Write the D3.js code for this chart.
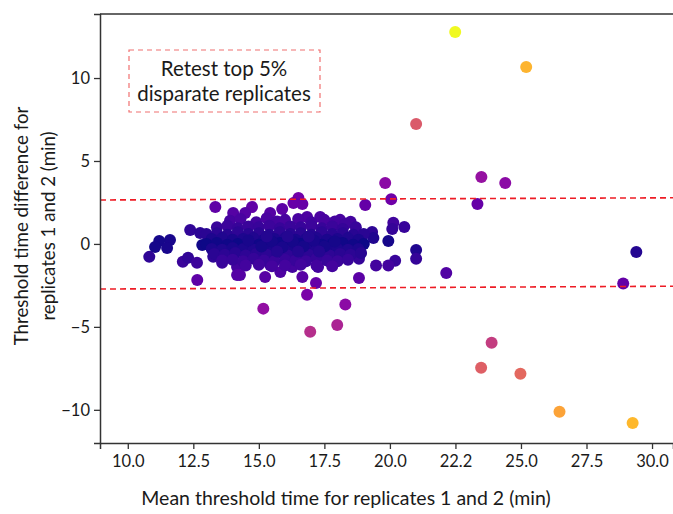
<!DOCTYPE html>
<html>
<head>
<meta charset="utf-8">
<script src="https://cdn.jsdelivr.net/npm/d3@7"></script>
<style>
  html, body { margin: 0; padding: 0; background: #fff; }
  svg text { font-family: Lato, "Open Sans", sans-serif; fill: #1a1a1a; }
</style>
</head>
<body>
<div id="chart"></div>
<script>
// mean threshold time (x) and replicate difference (y)
const outlierPoints = [
  [22.49, 12.77], [25.2, 10.66], [21.0, 7.23], [19.82, 3.67], [23.49, 4.04], [24.4, 3.67],
  [20.05, 2.7], [19.06, 2.35], [23.34, 2.4], [29.4, -0.48], [28.9, -2.39], [22.15, -1.75],
  [18.3, -3.65], [17.99, -4.88], [23.88, -5.96], [23.48, -7.47], [24.98, -7.83],
  [26.47, -10.12], [29.26, -10.8], [15.17, -3.9], [16.96, -5.3], [16.84, -3.07],
  [17.18, -2.35], [12.65, -2.17]
];

const edgePoints = [
  [20.13, 1.27], [20.55, 1.02], [20.09, 0.9], [19.32, 0.72], [19.37, 0.36], [19.94, 0.18],
  [18.99, 0.0], [21.0, -0.36], [21.0, -0.9], [20.2, -1.02], [19.94, -1.3], [19.47, -1.3],
  [18.82, -0.9], [18.82, -2.05], [18.5, 1.33], [18.1, 1.45],
  [13.34, 2.23], [12.38, 0.84], [11.61, 0.24], [11.2, 0.18], [11.04, -0.18], [11.5, -0.24],
  [10.82, -0.78], [12.1, -1.08], [12.3, -0.84], [12.64, -1.14], [12.76, 0.66], [12.84, -0.06],
  [13.26, -0.78], [13.6, -1.14], [14.17, -1.39], [14.17, -1.87],
  [16.51, 2.77], [16.32, 2.47], [16.66, 2.41], [14.74, 2.23], [14.48, 1.87], [15.43, 1.87],
  [15.89, 2.1], [16.84, 1.63], [17.34, 1.63], [14.02, 1.87], [14.28, -1.87], [15.24, -1.99],
  [15.82, -1.69], [16.66, -1.99], [15.43, -1.27], [16.28, -1.39], [17.26, -1.39]
];

const clusterPoints = [
  [13.9, 1.4], [14.3, 1.5], [14.9, 1.3], [15.3, 1.55], [15.7, 1.35], [16.0, 1.45], [16.5, 1.5],
  [17.0, 1.3], [17.5, 1.45], [17.9, 1.35], [18.3, 1.2],
  [13.4, 1.0], [13.8, 1.1], [14.2, 0.95], [14.6, 1.05], [15.0, 1.0], [15.4, 1.1], [15.8, 0.95],
  [16.2, 1.05], [16.6, 1.0], [17.0, 1.1], [17.4, 0.95], [17.8, 1.05], [18.2, 0.9], [18.7, 1.0],
  [13.0, 0.6], [13.4, 0.65], [13.8, 0.55], [14.2, 0.7], [14.6, 0.6], [15.0, 0.65], [15.4, 0.55],
  [15.8, 0.7], [16.2, 0.6], [16.6, 0.65], [17.0, 0.55], [17.4, 0.7], [17.8, 0.6], [18.2, 0.65],
  [18.6, 0.55], [19.0, 0.6],
  [13.2, 0.3], [13.6, 0.35], [14.0, 0.25], [14.4, 0.3], [14.8, 0.35], [15.2, 0.25], [15.6, 0.3],
  [16.0, 0.35], [16.4, 0.25], [16.8, 0.3], [17.2, 0.35], [17.6, 0.25], [18.0, 0.3], [18.4, 0.35],
  [18.8, 0.25],
  [13.0, 0.0], [13.4, 0.05], [13.8, -0.05], [14.2, 0.0], [14.6, 0.05], [15.0, -0.05], [15.4, 0.0],
  [15.8, 0.05], [16.2, -0.05], [16.6, 0.0], [17.0, 0.05], [17.4, -0.05], [17.8, 0.0], [18.2, 0.05],
  [18.6, -0.05], [19.0, 0.0],
  [13.2, -0.3], [13.6, -0.35], [14.0, -0.25], [14.4, -0.3], [14.8, -0.35], [15.2, -0.25],
  [15.6, -0.3], [16.0, -0.35], [16.4, -0.25], [16.8, -0.3], [17.2, -0.35], [17.6, -0.25],
  [18.0, -0.3], [18.4, -0.35], [18.8, -0.3],
  [13.3, -0.6], [13.7, -0.65], [14.1, -0.55], [14.5, -0.7], [14.9, -0.6], [15.3, -0.65],
  [15.7, -0.55], [16.1, -0.7], [16.5, -0.6], [16.9, -0.65], [17.3, -0.55], [17.7, -0.7],
  [18.1, -0.6], [18.5, -0.65], [18.9, -0.55],
  [13.6, -1.0], [14.0, -0.95], [14.4, -1.05], [14.8, -0.9], [15.2, -1.0], [15.6, -1.05],
  [16.0, -0.95], [16.4, -1.0], [16.8, -1.05], [17.2, -0.9], [17.6, -1.0], [18.0, -1.05],
  [18.4, -0.95],
  [14.5, -1.3], [15.0, -1.25], [15.5, -1.35], [16.0, -1.3], [16.6, -1.25], [17.2, -1.3], [17.8, -1.35],
  [14.6, 0.2], [15.1, -0.15], [15.5, 0.15], [15.9, -0.2], [16.3, 0.15], [16.7, -0.15], [17.1, 0.2],
  [17.5, -0.15], [17.9, 0.15], [15.3, 0.45], [16.1, 0.45], [16.9, 0.45], [15.7, -0.45], [16.5, -0.45],
  [17.3, -0.45]
];

// upper / lower retest thresholds: [x, y] at both ends
const thresholdUpper = [[8.94, 2.65], [30.8, 2.78]];
const thresholdLower = [[8.94, -2.72], [30.8, -2.55]];

const xTicks = [10.0, 12.5, 15.0, 17.5, 20.0, 22.5, 25.0, 27.5, 30.0];
const xTickLabels = ['10.0', '12.5', '15.0', '17.5', '20.0', '22.2', '25.0', '27.5', '30.0'];
const yTicks = [-10, -5, 0, 5, 10];
const yTickLabels = ['\u221210', '\u22125', '0', '5', '10'];

const annotationLines = ['Retest top 5%', 'disparate replicates'];

const width = 673, height = 514;
const margin = { top: 14, right: 0, bottom: 71, left: 100 };

const svg = d3.select('#chart').append('svg')
  .attr('width', width).attr('height', height);

const x = d3.scaleLinear().domain([8.94, 30.8]).range([margin.left, width - margin.right]);
const y = d3.scaleLinear().domain([-12.0, 13.86]).range([height - margin.bottom, margin.top]);

const allPoints = edgePoints.concat(clusterPoints, outlierPoints);
const maxAbs = d3.max(allPoints, d => Math.abs(d[1]));
const color = d3.scaleSequential(d3.interpolatePlasma).domain([0, maxAbs]);

// points
svg.append('g').selectAll('circle').data(allPoints).enter().append('circle')
  .attr('cx', d => x(d[0]))
  .attr('cy', d => y(d[1]))
  .attr('r', 6)
  .attr('fill', d => color(Math.abs(d[1])));

// threshold lines
const line = d3.line().x(d => x(d[0])).y(d => y(d[1]));
[thresholdUpper, thresholdLower].forEach(t => {
  svg.append('path').datum(t)
    .attr('d', line)
    .attr('fill', 'none')
    .attr('stroke', '#ee1c25')
    .attr('stroke-width', 1.6)
    .attr('stroke-dasharray', '6,4');
});

// axes
const xAxis = svg.append('g')
  .attr('transform', `translate(0,${height - margin.bottom})`)
  .call(d3.axisBottom(x).tickValues(xTicks).tickFormat((d, i) => xTickLabels[i]).tickSize(6).tickPadding(6));
const yAxis = svg.append('g')
  .attr('transform', `translate(${margin.left},0)`)
  .call(d3.axisLeft(y).tickValues(yTicks).tickFormat((d, i) => yTickLabels[i]).tickSize(6).tickPadding(4));
[xAxis, yAxis].forEach(a => {
  a.select('.domain').attr('stroke', '#333').attr('stroke-width', 1.5);
  a.selectAll('.tick line').attr('stroke', '#333').attr('stroke-width', 1.3);
  a.selectAll('.tick text').attr('font-size', 16.5).attr('fill', '#1a1a1a')
    .style('font-family', 'Lato, "Open Sans", sans-serif');
});
// top spine
svg.append('line')
  .attr('x1', margin.left).attr('x2', width)
  .attr('y1', margin.top).attr('y2', margin.top)
  .attr('stroke', '#333').attr('stroke-width', 1.5);

// annotation box
svg.append('rect')
  .attr('x', 129).attr('y', 50).attr('width', 191).attr('height', 62)
  .attr('fill', 'none')
  .attr('stroke', '#f07070')
  .attr('stroke-width', 1.2)
  .attr('stroke-dasharray', '5,4');
svg.append('g').selectAll('text').data(annotationLines).enter().append('text')
  .attr('x', 224)
  .attr('y', (d, i) => 76 + i * 25)
  .attr('text-anchor', 'middle')
  .attr('font-size', 20.5)
  .text(d => d);

// axis titles
svg.append('text')
  .attr('x', 346).attr('y', 505)
  .attr('text-anchor', 'middle')
  .attr('font-size', 19.5)
  .text('Mean threshold time for replicates 1 and 2 (min)');
svg.append('text')
  .attr('transform', 'translate(28,226) rotate(-90)')
  .attr('text-anchor', 'middle')
  .attr('font-size', 18.7)
  .text('Threshold time difference for');
svg.append('text')
  .attr('transform', 'translate(55,226) rotate(-90)')
  .attr('text-anchor', 'middle')
  .attr('font-size', 18.7)
  .text('replicates 1 and 2 (min)');
</script>
</body>
</html>
